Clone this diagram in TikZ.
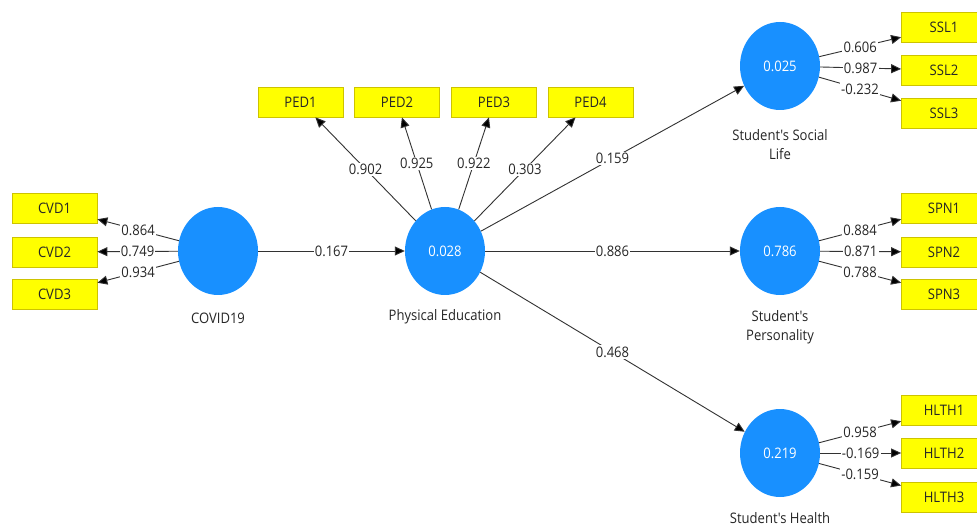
\documentclass[tikz,border=0pt]{standalone}
\usepackage{fontspec}
\setmainfont[FakeStretch=0.9, Ligatures=TeXOff]{Open Sans}
\usetikzlibrary{arrows.meta,shapes.geometric}
\definecolor{lvblue}{RGB}{24,144,255}
\definecolor{indyellow}{RGB}{255,255,0}
\definecolor{indborder}{RGB}{205,195,0}
\definecolor{linegray}{RGB}{50,50,50}
\tikzset{
  x=1pt, y=-1pt,
  latent/.style={ellipse, fill=lvblue, draw=none, minimum width=80pt, minimum height=88pt, inner sep=0pt, text=white, font=\fontsize{14.5}{17}\selectfont},
  indicator/.style={rectangle, fill=indyellow, draw=indborder, line width=0.8pt, minimum width=85pt, minimum height=30pt, inner sep=0pt, font=\fontsize{14.5}{17}\selectfont, text=black!85},
  lvlabel/.style={align=center, font=\fontsize{14.5}{19}\selectfont, text=black!85, inner sep=0pt},
  path/.style={draw=linegray, line width=0.9pt, -{Triangle[length=10pt,width=9pt,fill=black]}},
  coef/.style={fill=white, inner sep=1.2pt, font=\fontsize{14.5}{17}\selectfont, text=black!85, midway},
}
\begin{document}
\begin{tikzpicture}
\useasboundingbox (0,0) rectangle (977,526);
\clip (0,0) rectangle (977,526);
\fill[white] (0,0) rectangle (977,526);

% latent variables
\node[latent] (cov) at (218,251) {};
\node[latent] (pe) at (445,251) {0.028};
\node[latent] (ssl) at (780,66) {0.025};
\node[latent] (spn) at (780,251) {0.786};
\node[latent] (hl) at (780,453) {0.219};

% latent labels
\node[lvlabel] (covl) at (218,318) {COVID19};
\node[lvlabel] (pel) at (445,317) {Physical Education};
\node[lvlabel] (ssll) at (780,145) {Student's Social\\Life};
\node[lvlabel] (spnl) at (780,327) {Student's\\Personality};
\node[lvlabel] (hll) at (780,518) {Student's Health};

% indicators
\node[indicator] (cvd1) at (54.5,208) {CVD1};
\node[indicator] (cvd2) at (54.5,252) {CVD2};
\node[indicator] (cvd3) at (54.5,294) {CVD3};

\node[indicator] (ped1) at (300.5,102) {PED1};
\node[indicator] (ped2) at (397,102) {PED2};
\node[indicator] (ped3) at (494,102) {PED3};
\node[indicator] (ped4) at (590.5,102) {PED4};

\node[indicator] (ssl1) at (944,27) {SSL1};
\node[indicator] (ssl2) at (944,70) {SSL2};
\node[indicator] (ssl3) at (944,113) {SSL3};

\node[indicator] (spn1) at (944,208) {SPN1};
\node[indicator] (spn2) at (944,252) {SPN2};
\node[indicator] (spn3) at (944,294) {SPN3};

\node[indicator] (hlth1) at (944,410) {HLTH1};
\node[indicator] (hlth2) at (944,453) {HLTH2};
\node[indicator] (hlth3) at (944,497) {HLTH3};

% outer loadings
\draw[path] (cov) -- node[coef] {0.864} (cvd1);
\draw[path] (cov) -- node[coef] {0.749} (cvd2);
\draw[path] (cov) -- node[coef] {0.934} (cvd3);

\draw[path] (pe) -- node[coef] {0.902} (ped1);
\draw[path] (pe) -- node[coef] {0.925} (ped2);
\draw[path] (pe) -- node[coef] {0.922} (ped3);
\draw[path] (pe) -- node[coef] {0.303} (ped4);

\draw[path] (ssl) -- node[coef] {0.606} (ssl1);
\draw[path] (ssl) -- node[coef] {0.987} (ssl2);
\draw[path] (ssl) -- node[coef] {-0.232} (ssl3);

\draw[path] (spn) -- node[coef] {0.884} (spn1);
\draw[path] (spn) -- node[coef] {0.871} (spn2);
\draw[path] (spn) -- node[coef] {0.788} (spn3);

\draw[path] (hl) -- node[coef] {0.958} (hlth1);
\draw[path] (hl) -- node[coef] {-0.169} (hlth2);
\draw[path] (hl) -- node[coef] {-0.159} (hlth3);

% structural paths
\draw[path] (cov) -- node[coef] {0.167} (pe);
\draw[path] (pe) -- node[coef] {0.159} (ssl);
\draw[path] (pe) -- node[coef] {0.886} (spn);
\draw[path] (pe) -- node[coef] {0.468} (hl);
\end{tikzpicture}
\end{document}
